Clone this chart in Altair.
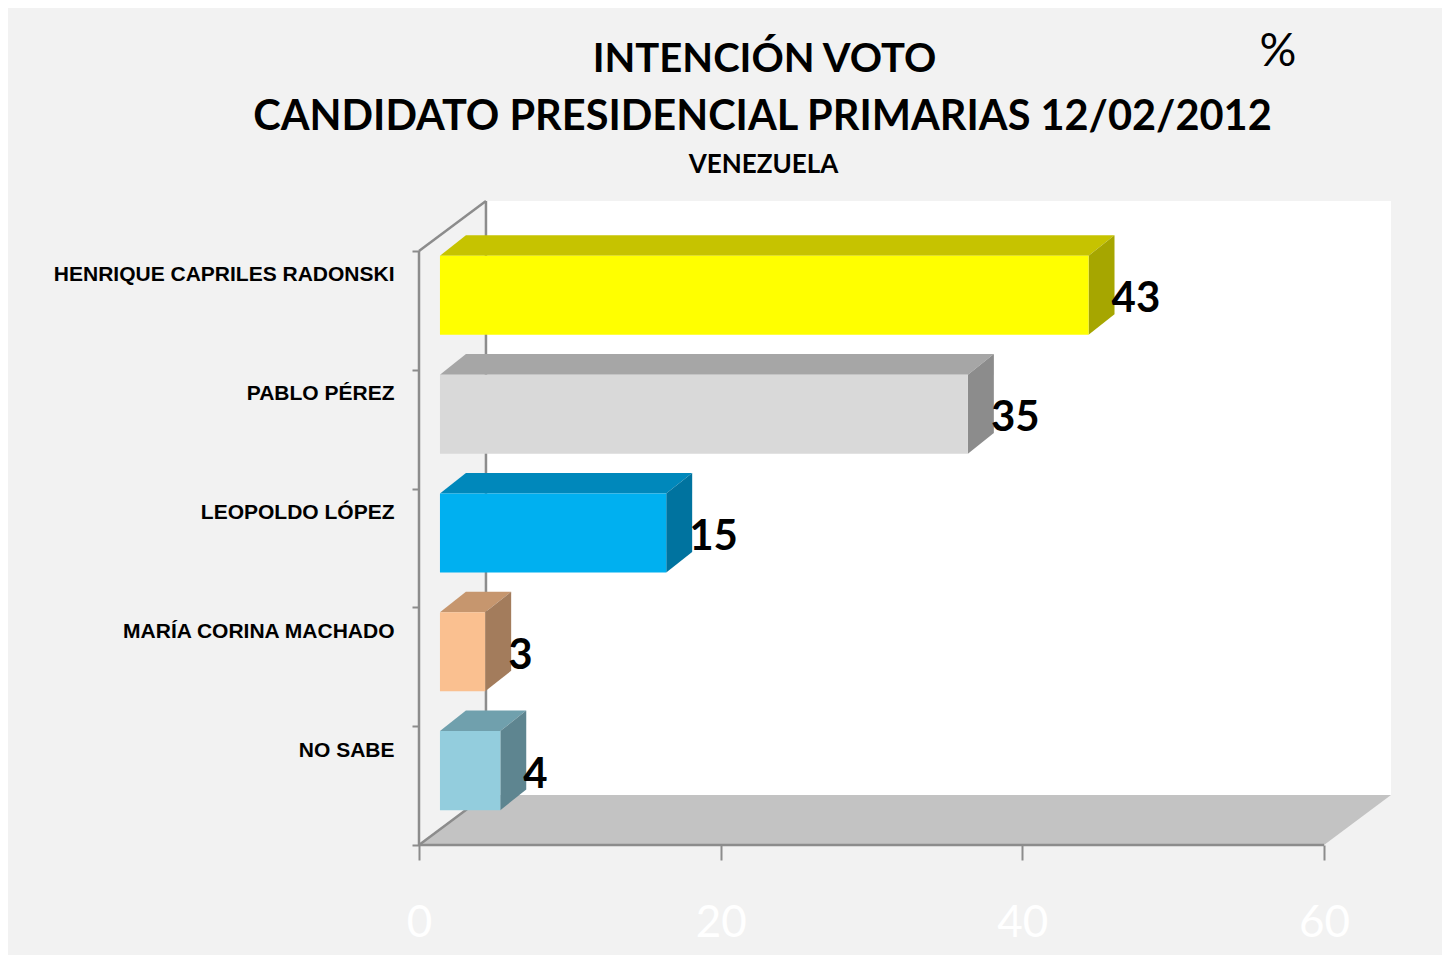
import json
import altair as alt
import pandas as pd

# ---------------- data ----------------
candidates = ["HENRIQUE CAPRILES RADONSKI", "PABLO PÉREZ", "LEOPOLDO LÓPEZ",
              "MARÍA CORINA MACHADO", "NO SABE"]
values = [43, 35, 15, 3, 4]
front_colors = ["#FFFF00", "#D9D9D9", "#00B0F0", "#FAC090", "#93CDDD"]
top_colors = ["#C6C300", "#A6A6A6", "#0088BB", "#C6966E", "#70A0AD"]
side_colors = ["#A6A600", "#8C8C8C", "#00739F", "#A37C5C", "#5E8590"]
x_ticks = [0, 20, 40, 60]

TITLE1 = "INTENCIÓN VOTO"
TITLE2 = "CANDIDATO PRESIDENCIAL PRIMARIAS 12/02/2012"
SUBTITLE = "VENEZUELA"

# ---------------- 3-D geometry (data units) ----------------
XMAX = 64.44          # x domain incl. floor depth
FLOOR_DX = 4.44       # depth of the floor in x units
FLOOR_DY = 0.42       # depth of the floor in category units
YMAX = 5 + FLOOR_DY
BAR_X0 = 1.39         # front face shift (bars sit inside the depth)
BAR_SHIFT_Y = 0.126
BAR_H = 0.665
DEPTH_X = 1.72
DEPTH_Y = 0.173

n = len(candidates)
rows_front, rows_top, rows_side = [], [], []
for i, (nm, v) in enumerate(zip(candidates, values)):
    yc = (n - 0.5 - i) + BAR_SHIFT_Y
    y1, y2 = yc - BAR_H / 2, yc + BAR_H / 2
    x0, x1 = BAR_X0, v + BAR_X0
    rows_front.append(dict(name=nm, value=v, col=front_colors[i], x0=x0, x1=x1,
                           y1=y1, y2=y2, ym=yc))
    rows_top.append(dict(name=nm, col=top_colors[i], y=y2, xa=x0, xb=x1))
    rows_top.append(dict(name=nm, col=top_colors[i], y=y2 + DEPTH_Y,
                         xa=x0 + DEPTH_X, xb=x1 + DEPTH_X))
    rows_side.append(dict(name=nm, col=side_colors[i], x=x1, ya=y1, yb=y2))
    rows_side.append(dict(name=nm, col=side_colors[i], x=x1 + DEPTH_X,
                          ya=y1 + DEPTH_Y, yb=y2 + DEPTH_Y))

front_df = pd.DataFrame(rows_front)
top_df = pd.DataFrame(rows_top)
side_df = pd.DataFrame(rows_side)

wall_df = pd.DataFrame([dict(x=FLOOR_DX, x2=XMAX, y=FLOOR_DY, y2=YMAX)])
floor_df = pd.DataFrame([dict(y=0, xa=0, xb=60),
                         dict(y=FLOOR_DY, xa=FLOOR_DX, xb=60 + FLOOR_DX)])
lines_df = pd.DataFrame([
    dict(x=0, y=0, x2=0, y2=5),
    dict(x=0, y=5, x2=FLOOR_DX, y2=5 + FLOOR_DY),
    dict(x=FLOOR_DX, y=FLOOR_DY, x2=FLOOR_DX, y2=YMAX),
    dict(x=0, y=0, x2=FLOOR_DX, y2=FLOOR_DY),
    dict(x=0, y=0, x2=60, y2=0),
])

xs = alt.Scale(domain=[0, XMAX], nice=False, zero=False)
ys = alt.Scale(domain=[0, YMAX], nice=False, zero=False)

label_arr = json.dumps([""] + candidates[::-1], ensure_ascii=False)
GRAY = "#8C8C8C"

XAX = alt.Axis(values=x_ticks, domain=False, grid=False, tickSize=15,
               tickWidth=2, tickColor=GRAY, labelColor="white",
               labelFont="Lato", labelFontSize=44, labelPadding=41,
               labelFlush=False, labelOverlap=False, title=None)
YAX = alt.Axis(values=[0, 1, 2, 3, 4, 5], domain=False, grid=False,
               tickSize=7, tickWidth=2, tickColor=GRAY,
               labelExpr=f"{label_arr}[datum.value]",
               labelFont="Liberation Sans", labelFontWeight="bold",
               labelFontSize=21, labelColor="black", labelPadding=18,
               labelOffset=24, labelLimit=0, labelFlush=False,
               labelOverlap=False, title=None)


def X(f, **kw):
    return alt.X(f, scale=xs, axis=XAX, title=None, **kw)


def Y(f, **kw):
    return alt.Y(f, scale=ys, axis=YAX, title=None, **kw)


wall = alt.Chart(wall_df).mark_rect(color="white").encode(
    x=X("x:Q"), x2="x2:Q", y=Y("y:Q"), y2="y2:Q",
)

floor = alt.Chart(floor_df).mark_area(orient="horizontal", color="#C3C3C3").encode(
    y=Y("y:Q"), x=X("xa:Q", stack=None), x2="xb:Q",
)

lines = alt.Chart(lines_df).mark_rule(color=GRAY, strokeWidth=2.5).encode(
    x=X("x:Q"), y=Y("y:Q"), x2="x2:Q", y2="y2:Q",
)

tops = alt.Chart(top_df).mark_area(orient="horizontal").encode(
    y=Y("y:Q"), x=X("xa:Q", stack=None), x2="xb:Q",
    color=alt.Color("col:N", scale=None, legend=None),
    detail="name:N",
)

sides = alt.Chart(side_df).mark_area(orient="vertical").encode(
    x=X("x:Q"), y=Y("ya:Q", stack=None), y2="yb:Q",
    color=alt.Color("col:N", scale=None, legend=None),
    detail="name:N",
)

fronts = alt.Chart(front_df).mark_rect().encode(
    x=X("x0:Q"), x2="x1:Q", y=Y("y1:Q"), y2="y2:Q",
    color=alt.Color("col:N", scale=None, legend=None),
)

labels = alt.Chart(front_df).mark_text(
    align="left", baseline="alphabetic", dx=23, dy=17, font="Lato",
    fontWeight="bold", fontSize=42, color="black"
).encode(
    x=X("x1:Q"), y=Y("ym:Q"), text="value:Q",
)

one = pd.DataFrame({"k": [0]})


def title_text(txt, x, y, size, weight="bold"):
    return alt.Chart(one).mark_text(
        text=txt, align="center", baseline="alphabetic", font="Lato",
        fontWeight=weight, fontSize=size, color="black"
    ).encode(x=alt.value(x), y=alt.value(y))


t1 = title_text(TITLE1, 345.5, -129, 40)
t2 = title_text(TITLE2, 343.5, -71, 41.5)
t3 = title_text(SUBTITLE, 344.5, -28, 26)
t4 = title_text("%", 859, -135, 46, weight="normal")

chart = alt.layer(wall, floor, lines, tops, sides, fronts, labels, t1, t2, t3, t4).properties(
    width=972, height=644,
    background="#F2F2F2",
    padding={"left": 411, "top": 193, "right": 51, "bottom": 110},
    autosize=alt.AutoSizeParams(type="none"),
).configure_view(stroke=None)

chart.save("out.html", embed_options={"renderer": "svg", "actions": False})
